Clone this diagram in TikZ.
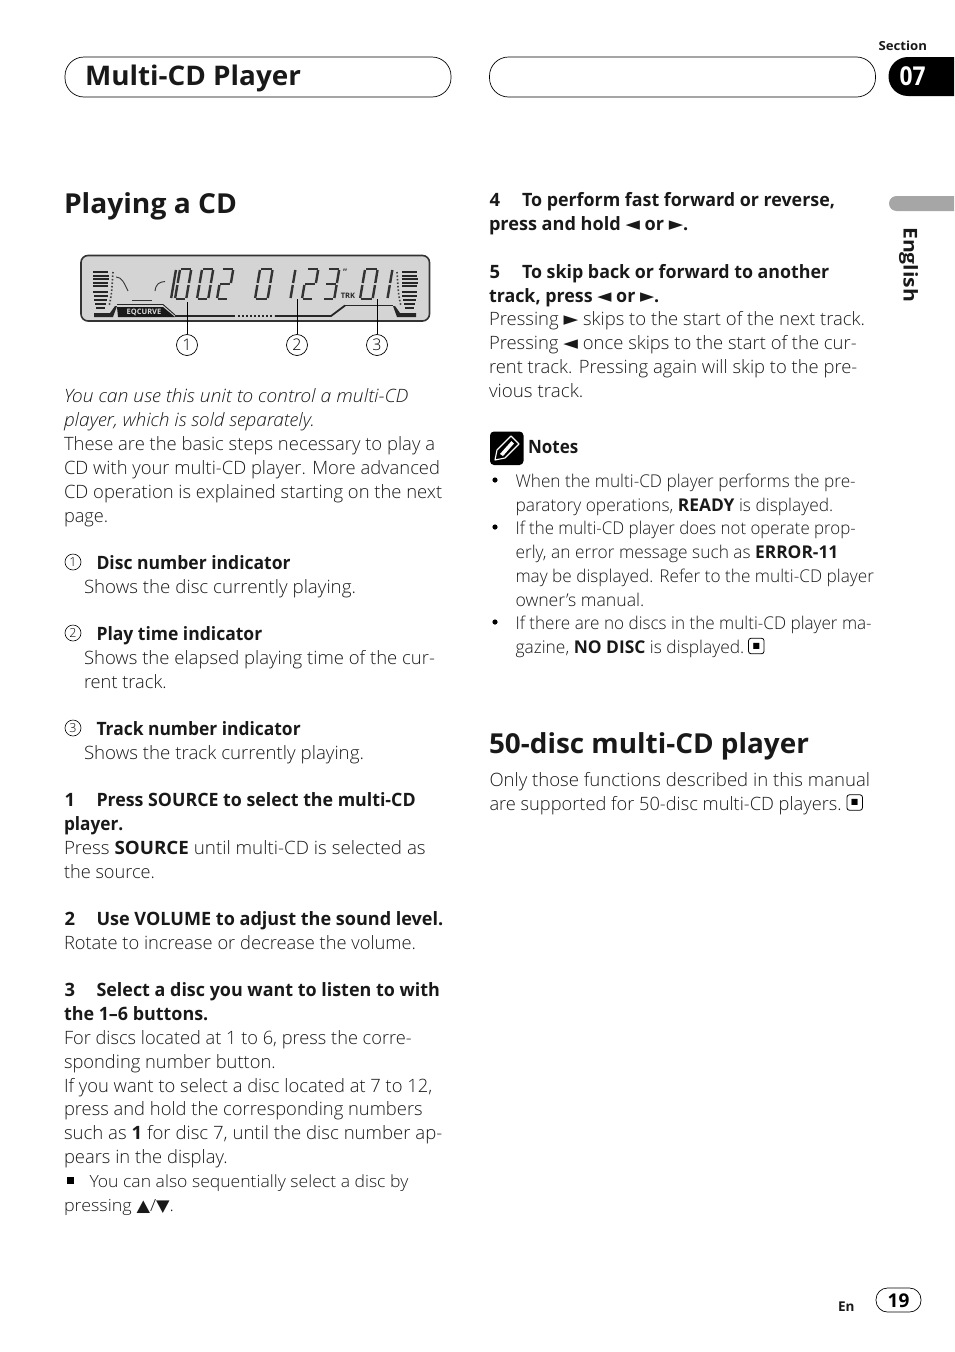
\documentclass[tikz,border=0pt]{standalone}
\usepackage{graphicx}
\usepackage{fontspec}
\setmainfont{Open Sans}[UprightFont=* Light,ItalicFont=* Light Italic,BoldFont=* Bold]
\newfontfamily\symf{DejaVu Sans}
\newcounter{tn}
\newsavebox\fitbox
\newcommand\Fit[2]{\sbox\fitbox{#2}\pgfmathsetmacro\fitsx{(#1)/\wd\fitbox}\scalebox{\fitsx}[1]{\usebox\fitbox}}
\tikzset{
 txt/.style={anchor=base west,inner sep=0pt,outer sep=0pt,font=\fontsize{18.4}{24}\selectfont,text=black!90},
 notetxt/.style={font=\fontsize{17.6}{24}\selectfont},
 smalltxt/.style={font=\fontsize{16.8}{24}\selectfont},
 headtxt/.style={font=\fontsize{27.5}{30}\bfseries\selectfont},
 tabbox/.style={draw=black,line width=0.7pt,rounded corners=19pt},
 circnum/.style={draw=black,circle,line width=0.6pt,inner sep=0pt,minimum size=16pt,font=\fontsize{12.5}{14}\selectfont},
 bigcirc/.style={draw=black,circle,line width=0.7pt,inner sep=0pt,minimum size=21pt,font=\fontsize{16}{18}\selectfont},
 leadline/.style={black,line width=0.7pt},
 seg/.style={line width=2.4pt,color=black!80},
 endbox/.style={draw=black,rounded corners=2.5pt,line width=0.8pt,minimum size=15.5pt,inner sep=0pt},
}
% x, centre y, right edge, text
\newcommand\Tx[4]{\stepcounter{tn}\node[txt] (t\thetn) at (#1,#2+6.3) {\Fit{#3-#1}{#4}};}
\newcommand\Nx[4]{\stepcounter{tn}\node[txt,notetxt] (t\thetn) at (#1,#2+6.3) {\Fit{#3-#1}{#4}};}
\newcommand\Bx[4]{\Tx{#1}{#2}{#3}{\textbf{#4}}}
\newcommand\Mk[3]{\stepcounter{tn}\node[txt] (t\thetn) at (#1,#2+6.3) {\textbf{#3}};}
\newcommand\lftk{{\symf\fontsize{19}{14}\selectfont ◄}}
\newcommand\rgtk{{\symf\fontsize{19}{14}\selectfont ►}}
\newcommand\ublk{{\symf\fontsize{16.5}{14}\selectfont ▲}}
\newcommand\dblk{{\symf\fontsize{16.5}{14}\selectfont ▼}}
\newcommand\SegA{\draw[seg] (1,-30)--(13,-30);}
\newcommand\SegB{\draw[seg] (14,-29)--(14,-16);}
\newcommand\SegC{\draw[seg] (14,-14)--(14,-1);}
\newcommand\SegD{\draw[seg] (1,0)--(13,0);}
\newcommand\SegE{\draw[seg] (0,-14)--(0,-1);}
\newcommand\SegF{\draw[seg] (0,-29)--(0,-16);}
\newcommand\SegG{\draw[seg] (1,-15)--(13,-15);}
\newcommand\lcd[4]{\begin{scope}[shift={(#1,#2)},xslant=0.17,xscale=#3]#4\end{scope}}
\begin{document}
\begin{tikzpicture}[x=1pt,y=-1pt]
\useasboundingbox (0,0) rectangle (954,1352);
% header
\node[tabbox,minimum width=386pt,minimum height=40pt,inner sep=0pt] (hl) at (258,77) {};
\node[tabbox,minimum width=386pt,minimum height=40pt,inner sep=0pt] (hr) at (682.5,77) {};
\node[txt,font=\fontsize{27}{30}\bfseries\selectfont] (htitle) at (85,85.5) {\Fit{216}{Multi-CD Player}};
\node[txt,font=\fontsize{12.5}{14}\bfseries\selectfont] (sect) at (878.5,50.5) {\Fit{48.5}{Section}};
\fill[black] (954,57) -- (908,57) arc[start angle=270,end angle=90,radius=19.5] -- (954,96) -- cycle;
\node[txt,text=white,font=\fontsize{26}{28}\bfseries\selectfont] (sec7) at (899.5,85.5) {\Fit{26}{07}};
\fill[black!35] (954,196) -- (896.5,196) arc[start angle=270,end angle=90,radius=7.5] -- (954,211) -- cycle;
\node[anchor=base west,inner sep=0pt,rotate=-90,font=\fontsize{19}{20}\bfseries\selectfont,text=black!90] (eng) at (903.5,227) {\Fit{75}{English}};
% titles
\node[txt,headtxt] (title1) at (64,213) {\Fit{173}{Playing a CD}};
\node[txt,headtxt] (title2) at (489,753.5) {\Fit{320}{50-disc multi-CD player}};
% display
\draw[fill=black!17,draw=black!80,line width=1.6pt,rounded corners=7pt] (81,255.5) rectangle (429.5,321);
\foreach \yy/\xa/\xb in {271/93/108,274.5/93/108.5,278/92.5/108.5,281.5/92.5/108,285/93/108,291/93/108,295/93.5/108,299/94/107,303/95/106,307/96/105}
 {\fill[black!85] (\xa,\yy) rectangle (\xb,\yy+2.3);
  \pgfmathsetmacro\xc{510-\xb}\pgfmathsetmacro\xd{510-\xa}
  \fill[black!85] (\xc,\yy) rectangle (\xd,\yy+2.3);}
\draw[black!75,line width=1.6pt,dash pattern=on 1.5pt off 2pt] (113,272) .. controls (112,285) and (112,295) .. (109,306);
\draw[black!75,line width=1.6pt,dash pattern=on 1.5pt off 2pt] (397,272) .. controls (398,285) and (398,295) .. (401,306);
\fill[black!85] (94,313) -- (110,313) -- (115,306) -- (117,306) -- (113,317) -- (94,317) -- cycle;
\fill[black!85] (416,313) -- (400,313) -- (395,306) -- (393,306) -- (397,317) -- (416,317) -- cycle;
\fill[black!90] (117,307) -- (163,307) -- (175,317) -- (118,317) -- cycle;
\node[anchor=center,inner sep=0pt,text=black!15,font=\fontsize{7.5}{8}\bfseries\selectfont] (eq) at (144,312.5) {EQCURVE};
\draw[black!85,line width=0.9pt] (117,304.5) -- (163,304.5) -- (175,315);
\draw[black!85,line width=1.8pt] (175,316) -- (235,316);
\draw[black!85,line width=2.4pt,dash pattern=on 2pt off 2pt] (238,316) -- (274,316);
\draw[black!85,line width=1.8pt] (275,316) -- (331,316) -- (345,305.5);
\draw[black!85,line width=0.9pt] (345,305.5) -- (393,305.5);
\draw[black!80,line width=0.9pt] (116,277) .. controls (122,277) and (124,283) .. (128,291);
\draw[black!80,line width=0.9pt] (132,300) -- (152,300);
\draw[black!80,line width=0.9pt] (155,291) .. controls (156,284) and (159,282) .. (165,281.5);
\lcd{175}{299}{0.8}{\SegA\SegB\SegC\SegD\SegE\SegF\draw[seg] (-5,-29)--(-5,-1);}
\lcd{197}{299}{0.8}{\SegA\SegB\SegC\SegD\SegE\SegF}
\lcd{217}{299}{0.8}{\SegA\SegB\SegG\SegE\SegD}
\lcd{255}{299}{0.9}{\SegA\SegB\SegC\SegD\SegE\SegF}
\lcd{285}{299}{0.9}{\draw[seg] (6,-29)--(6,-16);\draw[seg] (6,-14)--(6,-1);}
\lcd{302}{299}{0.8}{\SegA\SegB\SegG\SegE\SegD}
\lcd{323}{299}{0.8}{\SegA\SegB\SegG\SegC\SegD}
\node[inner sep=0pt,text=black!80,font=\fontsize{9}{9}\bfseries\selectfont] (dq) at (345,272.5) {"};
\node[anchor=center,inner sep=0pt,text=black!85,font=\fontsize{7.5}{8}\bfseries\selectfont] (trk) at (348,295.5) {TRK};
\lcd{360}{299}{0.9}{\SegA\SegB\SegC\SegD\SegE\SegF}
\lcd{382}{299}{0.9}{\draw[seg] (6,-29)--(6,-16);\draw[seg] (6,-14)--(6,-1);}
% callouts
\coordinate (d1) at (187,302);
\coordinate (d2) at (297,299);
\coordinate (d3) at (377,299);
\node[bigcirc] (c1) at (187,345) {1};
\node[bigcirc] (c2) at (297,345) {2};
\node[bigcirc] (c3) at (377,345) {3};
\draw[leadline] (d1) -- (c1);
\draw[leadline] (d2) -- (c2);
\draw[leadline] (d3) -- (c3);
% left column
\Tx{64}{396}{408.3}{\textit{You can use this unit to control a multi-CD}}
\Tx{64}{420}{315}{\textit{player, which is sold separately.}}
\Tx{64}{444}{435}{These are the basic steps necessary to play a}
\Tx{64}{468}{440}{CD with your multi-CD player. More advanced}
\Tx{64}{492}{442.3}{CD operation is explained starting on the next}
\Tx{64}{516}{108.3}{page.}
\node[circnum] (n1) at (73,562) {1};
\Bx{96.5}{563}{290.7}{Disc number indicator}
\Tx{84}{587}{356}{Shows the disc currently playing.}
\node[circnum] (n2) at (73,633) {2};
\Bx{96.5}{634}{262.3}{Play time indicator}
\Tx{84}{658}{435}{Shows the elapsed playing time of the cur-}
\Tx{84}{682}{166.7}{rent track.}
\node[circnum] (n3) at (73,728) {3};
\Bx{96.5}{729}{300.7}{Track number indicator}
\Tx{84}{753}{364}{Shows the track currently playing.}
\Mk{64.5}{800}{1}
\Bx{96.5}{800}{415.7}{Press SOURCE to select the multi-CD}
\Bx{64}{824}{123.3}{player.}
\Tx{64}{848}{425.7}{Press \textbf{SOURCE} until multi-CD is selected as}
\Tx{64}{872}{155}{the source.}
\Mk{64.5}{919}{2}
\Bx{96.5}{919}{443.3}{Use VOLUME to adjust the sound level.}
\Tx{64}{943}{416}{Rotate to increase or decrease the volume.}
\Mk{64.5}{990}{3}
\Bx{96.5}{990}{440}{Select a disc you want to listen to with}
\Bx{64}{1014}{208.3}{the 1–6 buttons.}
\Tx{64}{1038}{411.7}{For discs located at 1 to 6, press the corre-}
\Tx{64}{1062}{275.7}{sponding number button.}
\Tx{64}{1086}{432.3}{If you want to select a disc located at 7 to 12,}
\Tx{64}{1109}{422.7}{press and hold the corresponding numbers}
\Tx{64}{1133}{442.3}{such as \textbf{1} for disc 7, until the disc number ap-}
\Tx{64}{1157}{227.7}{pears in the display.}
\fill[black] (66.5,1176.5) rectangle (73.5,1183.5);
\node[txt,smalltxt] (sm1) at (89.5,1187) {\Fit{318.8}{You can also sequentially select a disc by}};
\node[txt,smalltxt] (sm2) at (64,1211) {\Fit{110}{pressing \ublk/\dblk.}};
% right column
\Mk{489.5}{200}{4}
\Bx{522}{200}{835}{To perform fast forward or reverse,}
\Bx{489}{224}{688.3}{press and hold \lftk{} or \rgtk.}
\Mk{489.5}{272}{5}
\Bx{522}{272}{829.3}{To skip back or forward to another}
\Bx{489}{296}{659.3}{track, press \lftk{} or \rgtk.}
\Tx{489}{319}{865}{Pressing \rgtk{} skips to the start of the next track.}
\Tx{489}{343}{856.7}{Pressing \lftk{} once skips to the start of the cur-}
\Tx{489}{367}{857.3}{rent track. Pressing again will skip to the pre-}
\Tx{489}{391}{583.3}{vious track.}
\fill[black,rounded corners=4pt] (490,431.5) rectangle (523.5,465);
\draw[white,line width=1.1pt,line join=round] (495,460) -- (497,450) -- (511,436) -- (519,444) -- (505,458) -- cycle;
\fill[white] (500,454) -- (511.5,441) -- (514,443.5) -- (503,456) -- cycle;
\Bx{528}{447}{578.3}{Notes}
\foreach \yy in {480,527,622}{\fill[black] (495,\yy) circle[radius=2.6];}
\Nx{515.5}{481}{855.7}{When the multi-CD player performs the pre-}
\Nx{515.5}{505}{833.3}{paratory operations, \textbf{READY} is displayed.}
\Nx{515.5}{528}{855.7}{If the multi-CD player does not operate prop-}
\Nx{515.5}{552}{838.3}{erly, an error message such as \textbf{ERROR-11}}
\Nx{515.5}{576}{874}{may be displayed. Refer to the multi-CD player}
\Nx{515.5}{600}{644.3}{owner’s manual.}
\Nx{515.5}{623}{871.7}{If there are no discs in the multi-CD player ma-}
\Nx{515.5}{647}{744.3}{gazine, \textbf{NO DISC} is displayed.}
\node[endbox] (e1) at (756.3,646) {\fontsize{8}{8}\symf ■};
\Tx{489.5}{780}{870}{Only those functions described in this manual}
\Tx{489.5}{804}{841.7}{are supported for 50-disc multi-CD players.}
\node[endbox] (e2) at (854.7,802.5) {\fontsize{8}{8}\symf ■};
% footer
\node[txt,font=\fontsize{13.5}{14}\bfseries\selectfont] (en) at (838,1311) {En};
\node[draw=black,line width=0.7pt,rounded corners=11.5pt,minimum width=45pt,minimum height=24pt,inner sep=0pt] (pg) at (898.5,1300) {};
\node[inner sep=0pt,font=\fontsize{19}{20}\bfseries\selectfont] (pgn) at (898.5,1300.5) {19};
\end{tikzpicture}
\end{document}
